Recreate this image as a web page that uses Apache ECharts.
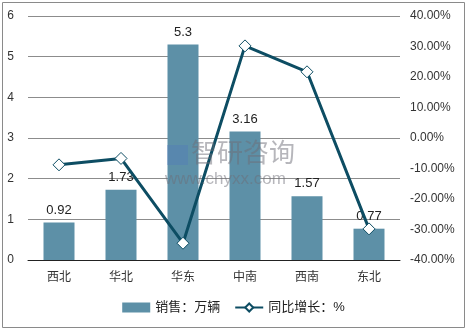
<!DOCTYPE html>
<html><head><meta charset="utf-8">
<script src="https://cdn.jsdelivr.net/npm/echarts@6/dist/echarts.min.js"></script>
<style>html,body{margin:0;padding:0;background:#fff}#c{width:467px;height:331px}</style>
</head><body><div id="c"></div>
<script>
const categories = ['西北','华北','华东','中南','西南','东北'];
const sales = [0.92, 1.73, 5.3, 3.16, 1.57, 0.77];
const growth = [-8.8, -6.7, -34.5, 30.2, 21.7, -29.8];
const leftTicks = [0,1,2,3,4,5,6];
const rightTicks = [-40,-30,-20,-10,0,10,20,30,40];

const chart = echarts.init(document.getElementById('c'));
const font = '"Liberation Sans", Arial, "Noto Sans CJK SC", sans-serif';
chart.setOption({
  animation:false,
  textStyle:{fontFamily:font},
  graphic:[
    {type:'rect',shape:{x:2.5,y:2.5,width:462,height:325},style:{fill:'none',stroke:'#8a8a8a',lineWidth:1}},
    {type:'text',left:191,top:139,z:100,style:{text:'智研咨询',fill:'rgba(110,110,120,0.5)',font:'26px "Noto Sans CJK SC"',letterSpacing:2}},
    {type:'text',left:165,top:171,z:100,style:{text:'www.chyxx.com',fill:'rgba(110,110,120,0.5)',font:'17px "Liberation Sans"',letterSpacing:2}},
    {type:'rect',z:100,shape:{x:167,y:145,width:21,height:20},style:{fill:'rgba(80,120,190,0.35)'}}
  ],
  grid:{left:28,right:67,top:16,bottom:71,containLabel:false},
  legend:{
    bottom:12,left:'center',itemGap:14,itemWidth:28,itemHeight:10,
    textStyle:{fontSize:13,color:'#222',fontFamily:font},
    data:[{name:'销售：万辆',icon:'rect'},{name:'同比增长：%'}]
  },
  xAxis:{type:'category',data:categories,
    axisLine:{lineStyle:{color:'#222'}},axisTick:{show:false},
    axisLabel:{color:'#333',fontSize:12,margin:12}},
  yAxis:[
    {type:'value',min:0,max:6,interval:1,
      axisLabel:{color:'#333',fontSize:12,margin:14},
      splitLine:{lineStyle:{color:'#8c8c8c'}},axisLine:{show:false},axisTick:{show:false}},
    {type:'value',min:-40,max:40,interval:10,
      axisLabel:{color:'#333',fontSize:12,margin:10,formatter:v=>v.toFixed(2)+'%'},
      splitLine:{show:false},axisLine:{show:false},axisTick:{show:false}}
  ],
  series:[
    {name:'销售：万辆',type:'bar',data:sales,barWidth:'50%',
      itemStyle:{color:'#5d90a7'},
      label:{show:true,position:'top',color:'#222',fontSize:13,distance:6}},
    {name:'同比增长：%',type:'line',yAxisIndex:1,data:growth,
      symbol:'diamond',symbolSize:12,
      lineStyle:{color:'#0d4d63',width:3},
      itemStyle:{color:'#fff',borderColor:'#0d4d63',borderWidth:1}}
  ]
});
</script></body></html>
